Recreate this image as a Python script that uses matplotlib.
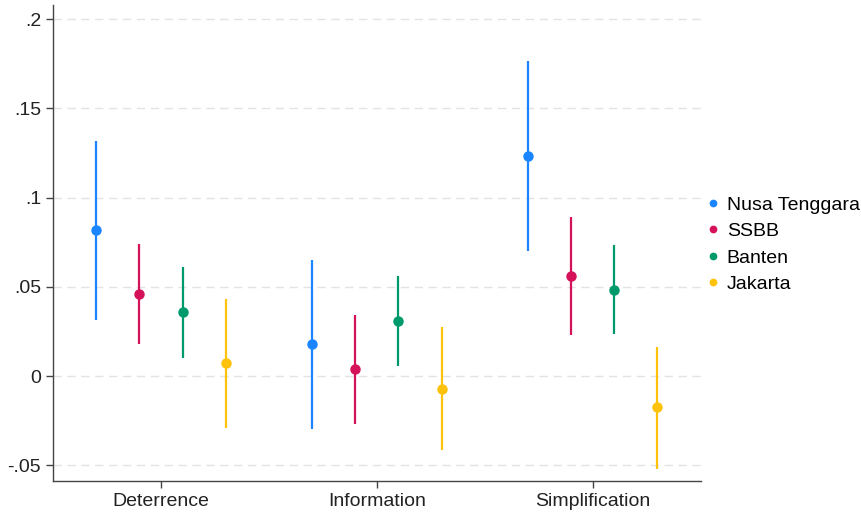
import matplotlib
matplotlib.use("Agg")
import matplotlib.pyplot as plt
import numpy as np

plt.rcParams['font.family'] = ['Liberation Sans', 'DejaVu Sans']

categories = ["Deterrence", "Information", "Simplification"]
series = ["Nusa Tenggara", "SSBB", "Banten", "Jakarta"]
colors = ["#1a85ff", "#d41159", "#00996b", "#ffc20a"]

estimates = {
    "Nusa Tenggara": [0.0817, 0.0177, 0.1234],
    "SSBB":          [0.0461, 0.0041, 0.0560],
    "Banten":        [0.0357, 0.0308, 0.0485],
    "Jakarta":       [0.0071, -0.0073, -0.0175],
}
lower = {
    "Nusa Tenggara": [0.0314, -0.0297, 0.0700],
    "SSBB":          [0.0177, -0.0269, 0.0230],
    "Banten":        [0.0099, 0.0056, 0.0235],
    "Jakarta":       [-0.0293, -0.0414, -0.0520],
}
upper = {
    "Nusa Tenggara": [0.1317, 0.0653, 0.1764],
    "SSBB":          [0.0739, 0.0342, 0.0892],
    "Banten":        [0.0612, 0.0560, 0.0733],
    "Jakarta":       [0.0431, 0.0273, 0.0161],
}
ytick_vals = [-0.05, 0, 0.05, 0.1, 0.15, 0.2]
ytick_labels = ["-.05", "0", ".05", ".1", ".15", ".2"]

fig = plt.figure(figsize=(8.61, 5.12), dpi=100)
ax = fig.add_axes([0.0616, 0.0605, 0.752, 0.929])

x = np.arange(1, len(categories) + 1)
offsets = [-0.3, -0.1, 0.1, 0.3]
for s, c, off in zip(series, colors, offsets):
    xs = x + off
    ax.vlines(xs, lower[s], upper[s], color=c, lw=1.6, zorder=3)
    ax.plot(xs, estimates[s], 'o', color=c, ms=6.5, zorder=4, label=s)

ax.set_xlim(0.5, 3.5)
ax.set_ylim(-0.0588, 0.2077)
ax.set_yticks(ytick_vals)
ax.set_yticklabels(ytick_labels)
ax.set_xticks(x)
ax.set_xticklabels(categories)
for yv in ytick_vals:
    ax.axhline(yv, color="#e3e3e3", lw=1.0, ls=(0, (6, 4)), zorder=1)

for side in ["top", "right"]:
    ax.spines[side].set_visible(False)
for side in ["left", "bottom"]:
    ax.spines[side].set_color("#444444")
    ax.spines[side].set_linewidth(1.0)
ax.tick_params(axis='both', colors="#444444", labelcolor="#222222", labelsize=14, length=5, width=1.0)

ax.legend(loc="center left", bbox_to_anchor=(1.0, 0.497), frameon=False, fontsize=14,
          borderaxespad=0, handletextpad=0.45, labelspacing=0.45, handlelength=0.5,
          markerscale=0.7)

fig.savefig("out.png", dpi=100, facecolor="white")
